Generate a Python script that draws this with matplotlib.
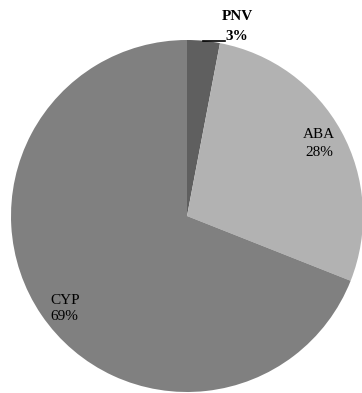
import matplotlib
matplotlib.use("Agg")
import matplotlib.pyplot as plt

labels = ["PNV", "ABA", "CYP"]
shares = [3, 28, 69]
colors = ["#5f5f5f", "#b2b2b2", "#808080"]

W, H = 362, 393
cx, cy, r = 187, 216, 176

fig = plt.figure(figsize=(W / 100, H / 100), dpi=100)
ax = fig.add_axes([(cx - r) / W, (H - cy - r) / H, 2 * r / W, 2 * r / H])
ax.pie(shares, colors=colors, startangle=90, counterclock=False,
       radius=1.0, wedgeprops=dict(linewidth=0))
ax.set_xlim(-1, 1)
ax.set_ylim(-1, 1)
ax.set_aspect("equal")
ax.axis("off")

serif = ["Liberation Serif", "DejaVu Serif"]


def to_data(px, py):
    return (px - cx) / r, (cy - py) / r


def label(px, py, name, pct, ha="center", bold=False, gap=19):
    weight = "bold" if bold else "normal"
    x, y = to_data(px, py)
    ax.text(x, y, name, ha=ha, va="center", fontsize=11, fontweight=weight,
            family=serif, clip_on=False)
    x, y = to_data(px, py + gap)
    ax.text(x, y, f"{pct}%", ha=ha, va="center", fontsize=11,
            fontweight=weight, family=serif, clip_on=False)


# PNV label above the pie with a short leader line
x0, y0 = to_data(203, 41)
x1, y1 = to_data(225, 41)
ax.plot([x0, x1], [y0, y1], color="black", linewidth=1.2, clip_on=False)
label(237, 17, labels[0], shares[0], bold=True, gap=20)

label(319, 135, labels[1], shares[1], gap=18)
label(50, 300, labels[2], shares[2], ha="left", gap=17)

fig.savefig("out.png", dpi=100)
